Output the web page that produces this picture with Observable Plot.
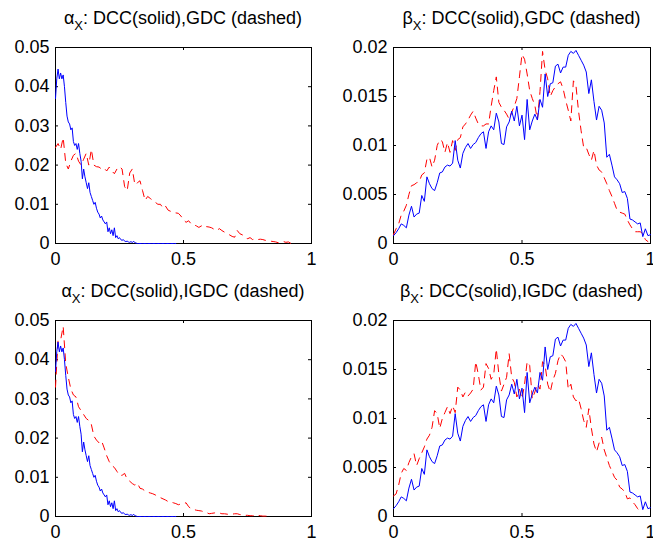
<!DOCTYPE html>
<html><head><meta charset="utf-8">
<script src="https://cdn.jsdelivr.net/npm/d3@7"></script>
<script src="https://cdn.jsdelivr.net/npm/@observablehq/plot@0.6"></script>
<style>
body{margin:0;background:#fff;}
#root{position:relative;width:653px;height:547px;overflow:hidden;font-family:"Liberation Sans",Arial,sans-serif;background:#fff;}
.ttl{position:absolute;font-size:18px;white-space:nowrap;transform:translateX(-50%);line-height:18px;color:#000;}
.ttl .sb{position:relative;top:6px;font-size:13px;}
.panel{position:absolute;}
</style></head><body><div id="root"></div>
<script>
// ---- text ----
const titleGreek = ["α", "β", "α", "β"];
const titleRest = [": DCC(solid),GDC (dashed)", ": DCC(solid),GDC (dashed)", ": DCC(solid),IGDC (dashed)", ": DCC(solid),IGDC (dashed)"];
const xTicks = [0, 0.5, 1];
const alphaTicks = [0, 0.01, 0.02, 0.03, 0.04, 0.05];
const betaTicks = [0, 0.005, 0.01, 0.015, 0.02];

// ---- data ----
// alpha, DCC (solid) : bins of 0.005 starting at 0
const alphaDCC = [0.037,0.042,0.0445,0.042,0.0435,0.042,0.043,0.040,0.036,0.0325,
0.031,0.0305,0.029,0.0295,0.026,0.025,0.0255,0.024,0.0255,0.023,
0.021,0.0165,0.019,0.017,0.0155,0.014,0.0155,0.013,0.012,0.011,
0.010,0.0105,0.009,0.008,0.0075,0.0065,0.007,0.006,0.0055,0.005,
0.0055,0.003,0.004,0.0025,0.0035,0.002,0.004,0.0015,0.002,0.0012,
0.0015,0.001,0.0008,0.001,0.0006,0.0005,0.0006,0.0004,0.0003,0.0005,
0.0002,0.0006,0.0002,0.0001,0,0,0,0,0,0,
0,0,0,0,0,0,0,0,0,0,
0,0,0,0,0,0,0,0,0,0,
0,0,0,0,0];
// alpha, GDC (dashed) : bins of 0.01
const alphaGDC = [0.0245,0.0255,0.024,0.027,0.0205,0.019,0.021,0.0225,0.023,0.021,
0.020,0.0215,0.023,0.020,0.024,0.020,0.0196,0.0195,0.019,0.0192,
0.0185,0.0195,0.0185,0.0178,0.019,0.0196,0.019,0.0145,0.0135,0.018,
0.019,0.015,0.0155,0.016,0.0135,0.011,0.012,0.0115,0.011,0.0105,
0.010,0.010,0.009,0.0095,0.0085,0.0082,0.008,0.0078,0.0077,0.007,
0.006,0.0054,0.0058,0.005,0.0048,0.0045,0.0041,0.0045,0.004,0.0043,
0.0042,0.004,0.0036,0.0033,0.0038,0.0033,0.0029,0.0025,0.0022,0.0018,
0.0016,0.0033,0.0025,0.0022,0.002,0.0012,0.0015,0.001,0.0012,0.001,
0.0011,0.001,0.0008,0.0007,0.0006,0.0005,0.0004,0.0002,0.0003,0.0005,
0.0003,0.0004,0];
// alpha, IGDC (dashed) : bins of 0.01
const alphaIGDC = [0.033,0.045,0.045,0.0485,0.039,0.0355,0.0325,0.031,0.0305,0.028,
0.027,0.026,0.025,0.0245,0.0235,0.0205,0.0195,0.0188,0.0193,0.0175,
0.0155,0.014,0.013,0.0125,0.0115,0.0105,0.0105,0.011,0.0095,0.009,
0.0084,0.008,0.0085,0.0072,0.007,0.0065,0.0062,0.006,0.0058,0.0055,
0.005,0.0048,0.0045,0.0042,0.0038,0.0037,0.0035,0.0033,0.003,0.0032,
0.0033,0.0035,0.0025,0.002,0.0018,0.0016,0.0015,0.0014,0.0012,0.001,
0.0007,0.0008,0.0009,0.001,0.0009,0.0007,0.0007,0.0006,0.0005,0.0006,
0.0007,0.0007,0.0005,0.0004,0.0003,0.0003,0.0002,0.0002,0.0003,0.0003,
0.0002,0.0001,0.0001,0.0001];
// beta, DCC (solid) : bins of 0.01
const betaDCC = [0.0008,0.0011,0.0015,0.0020,0.00185,0.0016,0.0029,0.0038,0.0027,0.0030,
0.0031,0.0049,0.0043,0.0068,0.0061,0.0056,0.0054,0.0062,0.0072,0.0073,
0.0078,0.0080,0.0079,0.0082,0.0105,0.0085,0.0077,0.0092,0.0098,0.0102,
0.0097,0.0101,0.0103,0.0108,0.0112,0.0114,0.0097,0.0114,0.0120,0.0116,
0.0133,0.0124,0.0102,0.0101,0.0119,0.0124,0.0135,0.0125,0.0140,0.0120,
0.0131,0.0106,0.0147,0.0116,0.0125,0.0132,0.0126,0.0147,0.0139,0.0173,
0.0150,0.0163,0.0164,0.0181,0.0183,0.0174,0.0180,0.0180,0.0192,0.0196,
0.0194,0.0197,0.0192,0.0187,0.0182,0.0175,0.0153,0.0167,0.0145,0.0126,
0.0140,0.0136,0.0123,0.0088,0.0091,0.0080,0.0068,0.0065,0.0061,0.0052,
0.0053,0.0046,0.0025,0.0024,0.0022,0.0020,0.0021,0.0007,0.0015,0.0008,
0.0009];
// beta, GDC (dashed) : bins of 0.01
const betaGDC = [0.0009,0.0015,0.0020,0.0029,0.0033,0.0039,0.0050,0.0059,0.0060,0.0062,
0.0063,0.0070,0.0072,0.0086,0.0088,0.0078,0.0085,0.0100,0.0106,0.0104,
0.0093,0.0103,0.0093,0.0105,0.0095,0.0106,0.0108,0.0119,0.0122,0.0126,
0.0131,0.0135,0.0128,0.0122,0.0120,0.0120,0.0122,0.0122,0.0140,0.0156,
0.0170,0.0144,0.0139,0.0136,0.0132,0.0127,0.0134,0.0140,0.0148,0.0170,
0.0193,0.0188,0.0173,0.0156,0.0148,0.0141,0.0126,0.0155,0.0196,0.0177,
0.0168,0.0150,0.0156,0.0160,0.0163,0.0165,0.0158,0.0146,0.0136,0.0125,
0.0166,0.0161,0.0135,0.0115,0.0098,0.0098,0.0091,0.0085,0.0095,0.0080,
0.0075,0.0073,0.0067,0.0061,0.0054,0.0048,0.0041,0.0034,0.0032,0.0031,
0.0030,0.0024,0.0019,0.0015,0.0012,0.0012,0.0012,0.0010,0.0004,0.0002];
// beta, IGDC (dashed) : bins of 0.01
const betaIGDC = [0.0021,0.0023,0.0032,0.0044,0.0049,0.0047,0.0055,0.0061,0.0064,0.0052,
0.0059,0.0065,0.0071,0.0079,0.0083,0.0091,0.0108,0.0105,0.0090,0.0100,
0.0106,0.0112,0.0105,0.0113,0.0106,0.0132,0.0129,0.0122,0.0127,0.0123,
0.0126,0.0130,0.0158,0.0145,0.0129,0.0132,0.0156,0.0151,0.0140,0.0145,
0.0171,0.0145,0.0128,0.0135,0.0142,0.0166,0.0142,0.0137,0.0122,0.0130,
0.0120,0.0135,0.0158,0.0154,0.0120,0.0127,0.0135,0.0130,0.0158,0.0154,
0.0135,0.0127,0.0139,0.0146,0.0159,0.0166,0.0163,0.0158,0.0130,0.0135,
0.0122,0.0118,0.0120,0.0110,0.0098,0.0091,0.0110,0.0090,0.0074,0.0066,
0.0075,0.0081,0.0068,0.0060,0.0052,0.0046,0.0040,0.0037,0.0030,0.0028,
0.0025,0.0018,0.0019,0.0015,0.0012,0.0008,0.0005];

const alphaStep = 0.005, binStep = 0.01;
const pts = (arr, step) => arr.map((v, i) => ({x: i * step, y: v}));

const root = document.getElementById("root");

function makePanel({left, top, width, height, ml, mr, mt, mb, yMax, yTicks, solid, solidStep, dashed, title}) {
  const W = width - ml - mr, H = height - mt - mb;
  const tl = 3;
  const svg = Plot.plot({
    width, height,
    marginLeft: ml, marginRight: mr, marginTop: mt, marginBottom: mb,
    style: {fontFamily: "'Liberation Sans', Arial, sans-serif", fontSize: "18px", background: "transparent", color: "#000", overflow: "visible"},
    x: {domain: [0, 1], ticks: xTicks, tickSize: 0, tickPadding: 9, tickFormat: d => String(d), label: null},
    y: {domain: [0, yMax], ticks: yTicks, tickSize: 0, tickPadding: 6, tickFormat: d => String(d), label: null},
    marks: [
      Plot.frame({stroke: "#000", strokeWidth: 1}),
      Plot.tickY(yTicks, {y: d => d, insetRight: W - tl, stroke: "#000"}),
      Plot.tickY(yTicks, {y: d => d, insetLeft: W - tl, stroke: "#000"}),
      Plot.tickX(xTicks, {x: d => d, insetTop: H - tl, stroke: "#000"}),
      Plot.tickX(xTicks, {x: d => d, insetBottom: H - tl, stroke: "#000"}),
      Plot.line(pts(dashed, binStep), {x: "x", y: "y", stroke: "#ff0000", strokeWidth: 1, strokeDasharray: "7,6"}),
      Plot.line(pts(solid, solidStep), {x: "x", y: "y", stroke: "#0000ff", strokeWidth: 1})
    ]
  });
  const wrap = document.createElement("div");
  wrap.className = "panel";
  wrap.style.left = left + "px";
  wrap.style.top = top + "px";
  wrap.appendChild(svg);
  root.appendChild(wrap);

  const t = document.createElement("div");
  t.className = "ttl";
  t.style.left = (left + ml + W / 2) + "px";
  t.style.top = (top + mt - 38) + "px";
  t.innerHTML = title[0] + '<span class="sb">X</span>' + title[1];
  root.appendChild(t);
}

makePanel({left: 0, top: 35, width: 330, height: 238, ml: 55, mr: 19, mt: 12, mb: 30,
  yMax: 0.05, yTicks: alphaTicks, solid: alphaDCC, solidStep: alphaStep, dashed: alphaGDC, title: [titleGreek[0], titleRest[0]]});
makePanel({left: 330, top: 35, width: 323, height: 238, ml: 63, mr: 3, mt: 12, mb: 30,
  yMax: 0.02, yTicks: betaTicks, solid: betaDCC, solidStep: binStep, dashed: betaGDC, title: [titleGreek[1], titleRest[1]]});
makePanel({left: 0, top: 308, width: 330, height: 238, ml: 55, mr: 19, mt: 12, mb: 30,
  yMax: 0.05, yTicks: alphaTicks, solid: alphaDCC, solidStep: alphaStep, dashed: alphaIGDC, title: [titleGreek[2], titleRest[2]]});
makePanel({left: 330, top: 308, width: 323, height: 238, ml: 63, mr: 3, mt: 12, mb: 30,
  yMax: 0.02, yTicks: betaTicks, solid: betaDCC, solidStep: binStep, dashed: betaIGDC, title: [titleGreek[3], titleRest[3]]});
</script>
</body></html>
